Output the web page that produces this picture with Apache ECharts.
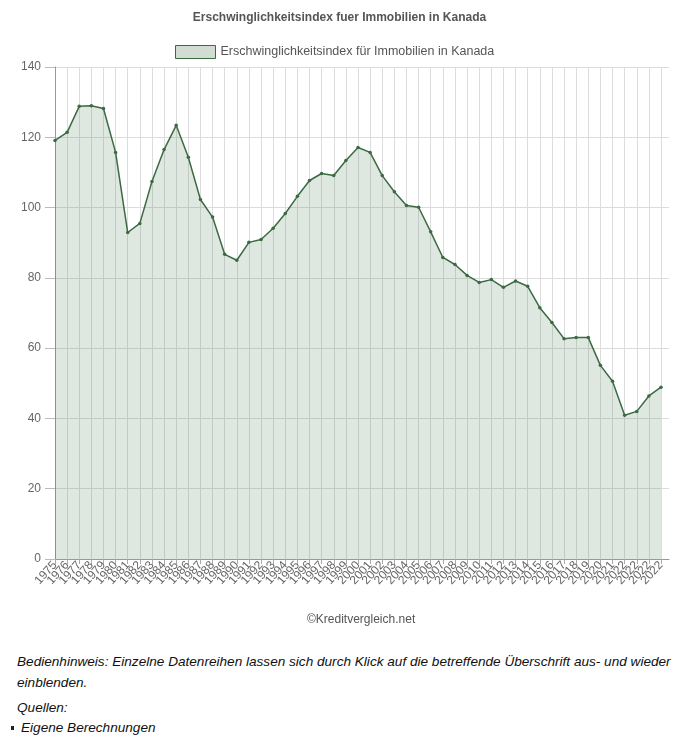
<!DOCTYPE html>
<html>
<head>
<meta charset="utf-8">
<script src="https://cdn.jsdelivr.net/npm/echarts@6/dist/echarts.min.js"></script>
<style>
  html, body { margin: 0; padding: 0; background: #fff; }
  #chart { position: absolute; left: 0; top: 0; width: 679px; height: 640px; }
  .note { position: absolute; font-family: "Liberation Sans", Arial, sans-serif; font-style: italic; font-size: 13.6px; color: #111; white-space: nowrap; }
  .bullet { position: absolute; left: 11px; top: 726px; width: 3px; height: 4px; background: #222; }
</style>
</head>
<body>
<div id="chart"></div>
<div class="note" style="left:17px; top:651px; line-height:21px;">Bedienhinweis: Einzelne Datenreihen lassen sich durch Klick auf die betreffende Überschrift aus- und wieder<br>einblenden.</div>
<div class="note" style="left:17px; top:700px;">Quellen:</div>
<div class="bullet"></div>
<div class="note" style="left:21px; top:720px;">Eigene Berechnungen</div>
<script>
const chartTitle = 'Erschwinglichkeitsindex fuer Immobilien in Kanada';
const seriesName = 'Erschwinglichkeitsindex für Immobilien in Kanada';
const credit = '©Kreditvergleich.net';
const categories = ['1975','1976','1977','1978','1979','1980','1981','1982','1983','1984','1985','1986','1987','1988','1989','1990','1991','1992','1993','1994','1995','1996','1997','1998','1999','2000','2001','2002','2003','2004','2005','2006','2007','2008','2009','2010','2011','2012','2013','2014','2015','2016','2017','2018','2019','2020','2021','2022','2022','2022','2022'];
const values = [119.1,121.4,128.8,129.0,128.2,115.7,92.9,95.5,107.4,116.5,123.4,114.3,102.3,97.3,86.7,85.0,90.1,90.9,94.1,98.3,103.2,107.7,109.7,109.1,113.4,117.1,115.7,109.1,104.5,100.6,100.1,93.1,85.8,83.8,80.7,78.7,79.5,77.3,79.1,77.6,71.5,67.3,62.7,63.0,63.0,55.1,50.6,40.9,42.0,46.4,48.9];
const yTicks = [0,20,40,60,80,100,120,140];

const lineColor = '#3b6a43';
const areaColor = 'rgba(61,110,69,0.24)';
const sans = '"Liberation Sans", Arial, sans-serif';

const chart = echarts.init(document.getElementById('chart'), null, {renderer: 'canvas'});
chart.setOption({
  animation: false,
  textStyle: { fontFamily: sans },
  title: {
    text: chartTitle, left: 'center', top: 12, padding: 0,
    textStyle: { fontFamily: sans, fontSize: 12, fontWeight: 'bold', color: '#555' }
  },
  legend: {
    left: 175, top: 45, padding: 0,
    icon: 'rect', itemWidth: 40, itemHeight: 13, itemGap: 5,
    textStyle: { fontFamily: sans, fontSize: 12.5, color: '#555' },
    itemStyle: { color: areaColor, borderColor: lineColor, borderWidth: 1 },
    data: [seriesName]
  },
  graphic: [{
    type: 'text', left: 307, top: 614,
    style: { text: credit, fontFamily: sans, fontSize: 12, fill: '#555' }
  }],
  grid: [
    { left: 55, top: 67, width: 606, height: 492 },
    { left: 55, top: 67, width: 614, height: 492 }
  ],
  xAxis: [
    {
      type: 'category', gridIndex: 0, data: categories, boundaryGap: false,
      axisLine: { show: false },
      axisTick: { show: true, interval: 0, length: 5, lineStyle: { color: '#aaa' } },
      splitLine: { show: true, interval: 0, lineStyle: { color: '#dcdcdc', width: 1 } },
      axisLabel: { interval: 0, rotate: 48, color: '#666', fontSize: 12, margin: 4, fontFamily: sans }
    },
    {
      type: 'value', gridIndex: 1, min: 0, max: 1,
      axisLine: { show: true, lineStyle: { color: '#999' } },
      axisTick: { show: false }, axisLabel: { show: false }, splitLine: { show: false }
    }
  ],
  yAxis: [
    { type: 'value', gridIndex: 0, min: yTicks[0], max: yTicks[yTicks.length-1], interval: 20, show: false },
    {
      type: 'value', gridIndex: 1, min: yTicks[0], max: yTicks[yTicks.length-1], interval: 20,
      axisLine: { show: true, lineStyle: { color: '#999' } },
      axisTick: { show: true, length: 10, lineStyle: { color: '#bbb' } },
      splitLine: { show: true, lineStyle: { color: '#dcdcdc', width: 1 } },
      axisLabel: { color: '#666', fontSize: 12, margin: 14, fontFamily: sans }
    }
  ],
  series: [{
    name: seriesName, type: 'line', xAxisIndex: 0, yAxisIndex: 0,
    data: values,
    symbol: 'circle', symbolSize: 3.5,
    itemStyle: { color: lineColor },
    lineStyle: { color: lineColor, width: 1.5 },
    areaStyle: { color: areaColor, origin: 'start' }
  }]
});
</script>
</body>
</html>
